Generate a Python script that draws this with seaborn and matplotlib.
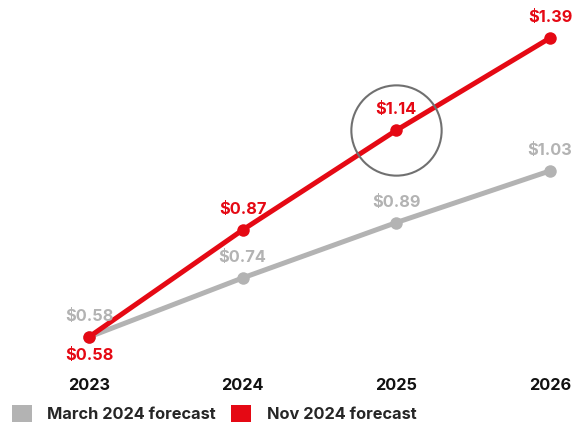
import matplotlib
matplotlib.use("Agg")
import matplotlib.pyplot as plt
import seaborn as sns
import pandas as pd
from matplotlib.patches import Patch

years = [2023, 2024, 2025, 2026]
march_2024 = [0.58, 0.74, 0.89, 1.03]
nov_2024 = [0.58, 0.87, 1.14, 1.39]
series_names = ["March 2024 forecast", "Nov 2024 forecast"]
highlight_year = 2025

GREY = "#b3b3b3"
RED = "#e50914"
FS = 11.8

sns.set_theme(style="white")
plt.rcParams["font.family"] = ["Inter", "DejaVu Sans"]

df = pd.DataFrame({
    "year": years * 2,
    "value": march_2024 + nov_2024,
    "series": [series_names[0]] * len(years) + [series_names[1]] * len(years),
})

fig = plt.figure(figsize=(5.79, 4.26), dpi=100)
ax = fig.add_axes([0, 58 / 426, 1, 368 / 426])

sns.lineplot(data=df, x="year", y="value", hue="series", style="series",
             palette={series_names[0]: GREY, series_names[1]: RED},
             markers={series_names[0]: "o", series_names[1]: "o"},
             dashes=False, linewidth=3.6, markersize=9, markeredgewidth=0,
             legend=False, ax=ax)

ax.set_xlim(2022.421, 2026.189)
ax.set_ylim(0.496, 1.493)
for s in ax.spines.values():
    s.set_visible(False)
ax.set_xticks(years)
ax.set_xticklabels([str(y) for y in years], fontsize=FS, fontweight="bold", color="#111111")
ax.tick_params(axis="x", length=0, pad=7)
ax.set_yticks([])
ax.set_xlabel("")
ax.set_ylabel("")
ax.grid(False)

for x, v in zip(years, march_2024):
    ax.annotate(f"${v:.2f}", (x, v), xytext=(0, 14.5), textcoords="offset points",
                ha="center", va="center", fontsize=FS, fontweight="bold", color=GREY)
for i, (x, v) in enumerate(zip(years, nov_2024)):
    dy = -13.5 if i == 0 else 15
    ax.annotate(f"${v:.2f}", (x, v), xytext=(0, dy), textcoords="offset points",
                ha="center", va="center", fontsize=FS, fontweight="bold", color=RED)

hi = years.index(highlight_year)
ax.plot([highlight_year], [nov_2024[hi]], marker="o", markersize=65,
        markerfacecolor="none", markeredgecolor="#707070", markeredgewidth=1.5)

handles = [Patch(facecolor=GREY, edgecolor="none"), Patch(facecolor=RED, edgecolor="none")]
fig.legend(handles, series_names, loc="lower left", bbox_to_anchor=(12 / 579, 4 / 426),
           ncol=2, frameon=False, borderpad=0, borderaxespad=0,
           handlelength=1.2, handleheight=1.2, handletextpad=0.95, columnspacing=0.95,
           prop={"size": FS, "weight": "bold"})

fig.savefig("out.png", dpi=100)
